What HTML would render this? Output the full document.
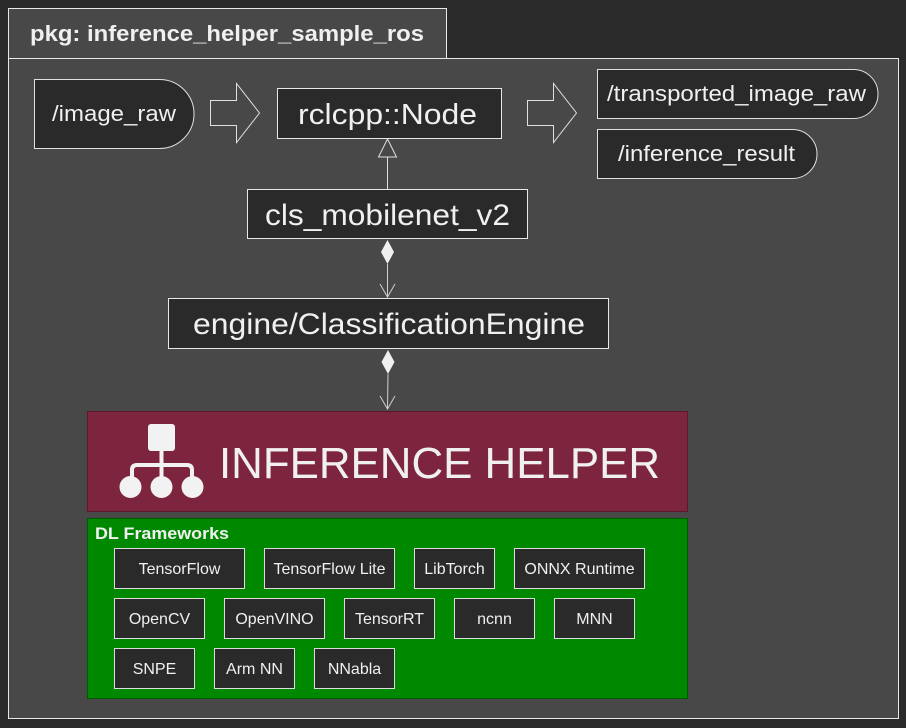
<!DOCTYPE html>
<html><head><meta charset="utf-8"><style>
html,body{margin:0;padding:0;background:#2b2b2b;}
svg{display:block;}
text{font-family:"Liberation Sans",sans-serif;fill:#f0f0f0;}
</style></head><body>
<svg width="906" height="728" viewBox="0 0 906 728" xmlns="http://www.w3.org/2000/svg">
<rect x="0" y="0" width="906" height="728" fill="#2b2b2b"/>
<rect x="8.5" y="8.5" width="438" height="50" fill="#484848" stroke="#e8e8e8" stroke-width="1"/>
<text x="30" y="41" font-size="22" font-weight="bold" textLength="394" lengthAdjust="spacingAndGlyphs">pkg: inference_helper_sample_ros</text>
<rect x="8.5" y="58.5" width="890" height="660" fill="#484848" stroke="#e8e8e8" stroke-width="1"/>

<path d="M34.5 79.5 H159.5 A34.5 34.5 0 0 1 159.5 148.5 H34.5 Z" fill="#2a2a2a" stroke="#e0e0e0"/>
<text x="52" y="121" font-size="22" textLength="124" lengthAdjust="spacingAndGlyphs">/image_raw</text>
<path d="M210.5 100.5 H236.5 V83.5 L259.5 113 L236.5 142.5 V125.5 H210.5 Z" fill="none" stroke="#e0e0e0"/>
<rect x="277.5" y="88.5" width="224" height="50" fill="#2a2a2a" stroke="#e8e8e8"/>
<text x="298" y="124" font-size="29" textLength="179" lengthAdjust="spacingAndGlyphs">rclcpp::Node</text>
<path d="M527.5 100.5 H553.5 V83.5 L576.5 113 L553.5 142.5 V125.5 H527.5 Z" fill="none" stroke="#e0e0e0"/>
<path d="M597.5 69.5 H853.5 A24.5 24.5 0 0 1 853.5 118.5 H597.5 Z" fill="#2a2a2a" stroke="#e0e0e0"/>
<text x="607" y="101" font-size="22" textLength="259" lengthAdjust="spacingAndGlyphs">/transported_image_raw</text>
<path d="M597.5 129.5 H792.5 A24.5 24.5 0 0 1 792.5 178.5 H597.5 Z" fill="#2a2a2a" stroke="#e0e0e0"/>
<text x="618" y="161" font-size="22" textLength="177" lengthAdjust="spacingAndGlyphs">/inference_result</text>

<line x1="387.5" y1="157" x2="387.5" y2="189" stroke="#e0e0e0"/>
<path d="M387.5 139 L396.5 157 H378.5 Z" fill="#484848" stroke="#e0e0e0"/>
<rect x="247.5" y="189.5" width="280" height="49" fill="#2a2a2a" stroke="#e8e8e8"/>
<text x="265" y="225" font-size="30" textLength="245" lengthAdjust="spacingAndGlyphs">cls_mobilenet_v2</text>

<path d="M387.5 240 L394 252 L387.5 264 L381 252 Z" fill="#f0f0f0"/>
<line x1="387.5" y1="264" x2="387.5" y2="297" stroke="#d0d0d0"/>
<path d="M380 284 L387.5 297 L395 284" fill="none" stroke="#d0d0d0"/>
<rect x="168.5" y="298.5" width="440" height="50" fill="#2a2a2a" stroke="#e8e8e8"/>
<text x="193" y="334" font-size="30" textLength="392" lengthAdjust="spacingAndGlyphs">engine/ClassificationEngine</text>
<path d="M388 350 L394.5 362 L388 374 L381.5 362 Z" fill="#f0f0f0"/>
<line x1="388" y1="374" x2="387.5" y2="409" stroke="#d0d0d0"/>
<path d="M380 396 L387.5 409 L395 396" fill="none" stroke="#d0d0d0"/>

<rect x="87.5" y="411.5" width="600" height="100" fill="#7d243e" stroke="#5a1a2c"/>
<rect x="148" y="424" width="27" height="27" rx="3" fill="#f2f2f2"/>
<rect x="159.5" y="450" width="4" height="16" fill="#f2f2f2"/>
<path d="M132 487 V470 Q132 465 137 465 H187 Q192 465 192 470 V487" fill="none" stroke="#f2f2f2" stroke-width="4"/>
<rect x="159.5" y="465" width="4" height="20" fill="#f2f2f2"/>
<circle cx="130.5" cy="487" r="11" fill="#f2f2f2"/>
<circle cx="161.5" cy="487" r="11" fill="#f2f2f2"/>
<circle cx="192.5" cy="487" r="11" fill="#f2f2f2"/>
<text x="219" y="478" font-size="44" fill="#ececec" textLength="441" lengthAdjust="spacingAndGlyphs">INFERENCE HELPER</text>

<rect x="87.5" y="518.5" width="600" height="180" fill="#008800" stroke="#005a00"/>
<text x="95" y="539" font-size="17" font-weight="bold" textLength="134" lengthAdjust="spacingAndGlyphs">DL Frameworks</text>
<g stroke="#dcdcdc" fill="#2a2a2a">
<rect x="114.5" y="548.5" width="130" height="40"/>
<rect x="264.5" y="548.5" width="130" height="40"/>
<rect x="414.5" y="548.5" width="80" height="40"/>
<rect x="514.5" y="548.5" width="130" height="40"/>
<rect x="114.5" y="598.5" width="90" height="40"/>
<rect x="224.5" y="598.5" width="100" height="40"/>
<rect x="344.5" y="598.5" width="90" height="40"/>
<rect x="454.5" y="598.5" width="80" height="40"/>
<rect x="554.5" y="598.5" width="80" height="40"/>
<rect x="114.5" y="648.5" width="80" height="40"/>
<rect x="214.5" y="648.5" width="80" height="40"/>
<rect x="314.5" y="648.5" width="80" height="40"/>
</g>
<g font-size="16" text-anchor="middle">
<text x="179.5" y="574">TensorFlow</text>
<text x="329.5" y="574">TensorFlow Lite</text>
<text x="454.5" y="574">LibTorch</text>
<text x="579.5" y="574">ONNX Runtime</text>
<text x="159.5" y="624">OpenCV</text>
<text x="274.5" y="624">OpenVINO</text>
<text x="389.5" y="624">TensorRT</text>
<text x="494.5" y="624">ncnn</text>
<text x="594.5" y="624">MNN</text>
<text x="154.5" y="674">SNPE</text>
<text x="254.5" y="674">Arm NN</text>
<text x="354.5" y="674">NNabla</text>
</g>
</svg>
</body></html>
